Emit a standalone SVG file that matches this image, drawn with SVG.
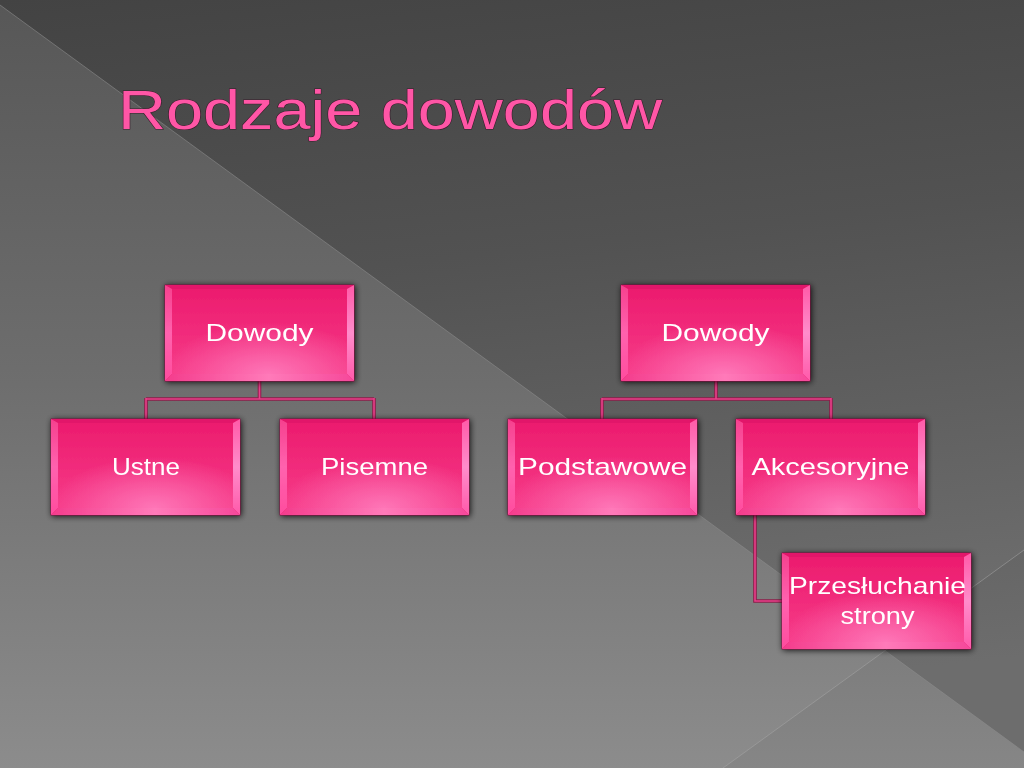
<svg xmlns="http://www.w3.org/2000/svg" width="1024" height="768" viewBox="0 0 1024 768">
<defs>
<linearGradient id="bgLow" x1="0" y1="0" x2="0" y2="1">
<stop offset="0" stop-color="#575757"/>
<stop offset="0.5" stop-color="#6e6e6e"/>
<stop offset="1" stop-color="#8c8c8c"/>
</linearGradient>
<linearGradient id="bgUp" x1="0" y1="0" x2="0.15" y2="1">
<stop offset="0" stop-color="#434343"/>
<stop offset="0.4" stop-color="#525252"/>
<stop offset="1" stop-color="#727272"/>
</linearGradient>
<linearGradient id="face" x1="0" y1="0" x2="0" y2="1">
<stop offset="0" stop-color="#ec1c6e"/>
<stop offset="1" stop-color="#f63a88"/>
</linearGradient>
<radialGradient id="glow" cx="0.55" cy="1" r="0.6">
<stop offset="0" stop-color="#ff7cbc" stop-opacity="0.9"/>
<stop offset="1" stop-color="#ff7cbc" stop-opacity="0"/>
</radialGradient>
<linearGradient id="bevL" x1="0" y1="0" x2="0" y2="1">
<stop offset="0" stop-color="#f6408e"/>
<stop offset="0.5" stop-color="#ff62ae"/>
<stop offset="1" stop-color="#ff4c9e"/>
</linearGradient>
<linearGradient id="bevR" x1="0" y1="0" x2="0" y2="1">
<stop offset="0" stop-color="#ff5aa8"/>
<stop offset="0.5" stop-color="#ff8ccb"/>
<stop offset="1" stop-color="#ff5aaa"/>
</linearGradient>
<linearGradient id="bevB" x1="0" y1="0" x2="1" y2="0">
<stop offset="0" stop-color="#f43c8c"/>
<stop offset="0.55" stop-color="#ff7ab9"/>
<stop offset="1" stop-color="#f6489a"/>
</linearGradient>
<filter id="shadow" x="-10%" y="-15%" width="125%" height="135%">
<feGaussianBlur in="SourceAlpha" stdDeviation="3"/>
<feOffset dx="1" dy="1" result="b"/>
<feComponentTransfer><feFuncA type="linear" slope="0.85"/></feComponentTransfer>
<feMerge><feMergeNode/><feMergeNode in="SourceGraphic"/></feMerge>
</filter>
<symbol id="box" viewBox="0 0 189 96" width="189" height="96" overflow="visible">
<rect x="0" y="0" width="189" height="96" fill="#e8196b" stroke="#7a1038" stroke-width="0.8"/>
<polygon points="0,0 189,0 182,4 7,4" fill="#e2176a"/>
<polygon points="0,0 7,4 7,89 0,96" fill="url(#bevL)"/>
<polygon points="189,0 182,4 182,89 189,96" fill="url(#bevR)"/>
<polygon points="0,96 7,89 182,89 189,96" fill="url(#bevB)"/>
<rect x="7" y="4" width="175" height="85" fill="url(#face)"/>
<rect x="7" y="4" width="175" height="85" fill="url(#glow)"/>
</symbol>
</defs>
<style>
.lbl{font-family:"Liberation Sans","DejaVu Sans",sans-serif;font-size:24px;fill:#ffffff;text-anchor:middle}
.conn{fill:none;stroke-linejoin:miter}
.connO{stroke:#8e1c4a;stroke-width:3.6}
.connI{stroke:#e8408a;stroke-width:1.6}
</style>

<g id="background">
<rect x="0" y="0" width="1024" height="768" fill="url(#bgLow)"/>
<polygon points="0,0 1024,0 1024,752 0,5" fill="url(#bgUp)"/>
<polygon points="723,768 1024,550 1024,768" fill="#000" opacity="0.04"/>
<line x1="0" y1="5" x2="1024" y2="752" stroke="#8a8a8a" stroke-width="1" opacity="0.6"/>
<line x1="723" y1="768" x2="1024" y2="550" stroke="#a8a8a8" stroke-width="1" opacity="0.5"/>
</g>

<text id="title" x="118" y="129" font-family="Liberation Sans, DejaVu Sans, sans-serif" font-size="56" fill="#ff56a6" stroke="#3a1a2a" stroke-width="1" paint-order="stroke" textLength="544" lengthAdjust="spacingAndGlyphs">Rodzaje dowodów</text>

<g id="connectors">
<path class="conn connO" d="M259.5 381 V399 M146 399 H374 M146 398 V419 M374 398 V419 M716 381 V399 M602 399 H831 M602 398 V419 M831 398 V419 M755 515 V601 H782"/>
<path class="conn connI" d="M259.5 381 V399 M146 399 H374 M146 398 V419 M374 398 V419 M716 381 V399 M602 399 H831 M602 398 V419 M831 398 V419 M755 515 V601 H782"/>
</g>

<g id="node-dowody-1" filter="url(#shadow)">
<use href="#box" x="165" y="285"/>
<text class="lbl" x="259.5" y="341" textLength="108" lengthAdjust="spacingAndGlyphs">Dowody</text>
</g>
<g id="node-ustne" filter="url(#shadow)">
<use href="#box" x="51" y="419"/>
<text class="lbl" x="146" y="475" textLength="68" lengthAdjust="spacingAndGlyphs">Ustne</text>
</g>
<g id="node-pisemne" filter="url(#shadow)">
<use href="#box" x="280" y="419"/>
<text class="lbl" x="374.5" y="475" textLength="107" lengthAdjust="spacingAndGlyphs">Pisemne</text>
</g>
<g id="node-dowody-2" filter="url(#shadow)">
<use href="#box" x="621" y="285"/>
<text class="lbl" x="715.5" y="341" textLength="108" lengthAdjust="spacingAndGlyphs">Dowody</text>
</g>
<g id="node-podstawowe" filter="url(#shadow)">
<use href="#box" x="508" y="419"/>
<text class="lbl" x="602.5" y="475" textLength="169" lengthAdjust="spacingAndGlyphs">Podstawowe</text>
</g>
<g id="node-akcesoryjne" filter="url(#shadow)">
<use href="#box" x="736" y="419"/>
<text class="lbl" x="830.5" y="475" textLength="158" lengthAdjust="spacingAndGlyphs">Akcesoryjne</text>
</g>
<g id="node-przesluchanie" filter="url(#shadow)">
<use href="#box" x="782" y="553"/>
<text class="lbl" x="877.5" y="594" textLength="177" lengthAdjust="spacingAndGlyphs">Przesłuchanie</text>
<text class="lbl" x="877.5" y="624" textLength="74" lengthAdjust="spacingAndGlyphs">strony</text>
</g>
</svg>
